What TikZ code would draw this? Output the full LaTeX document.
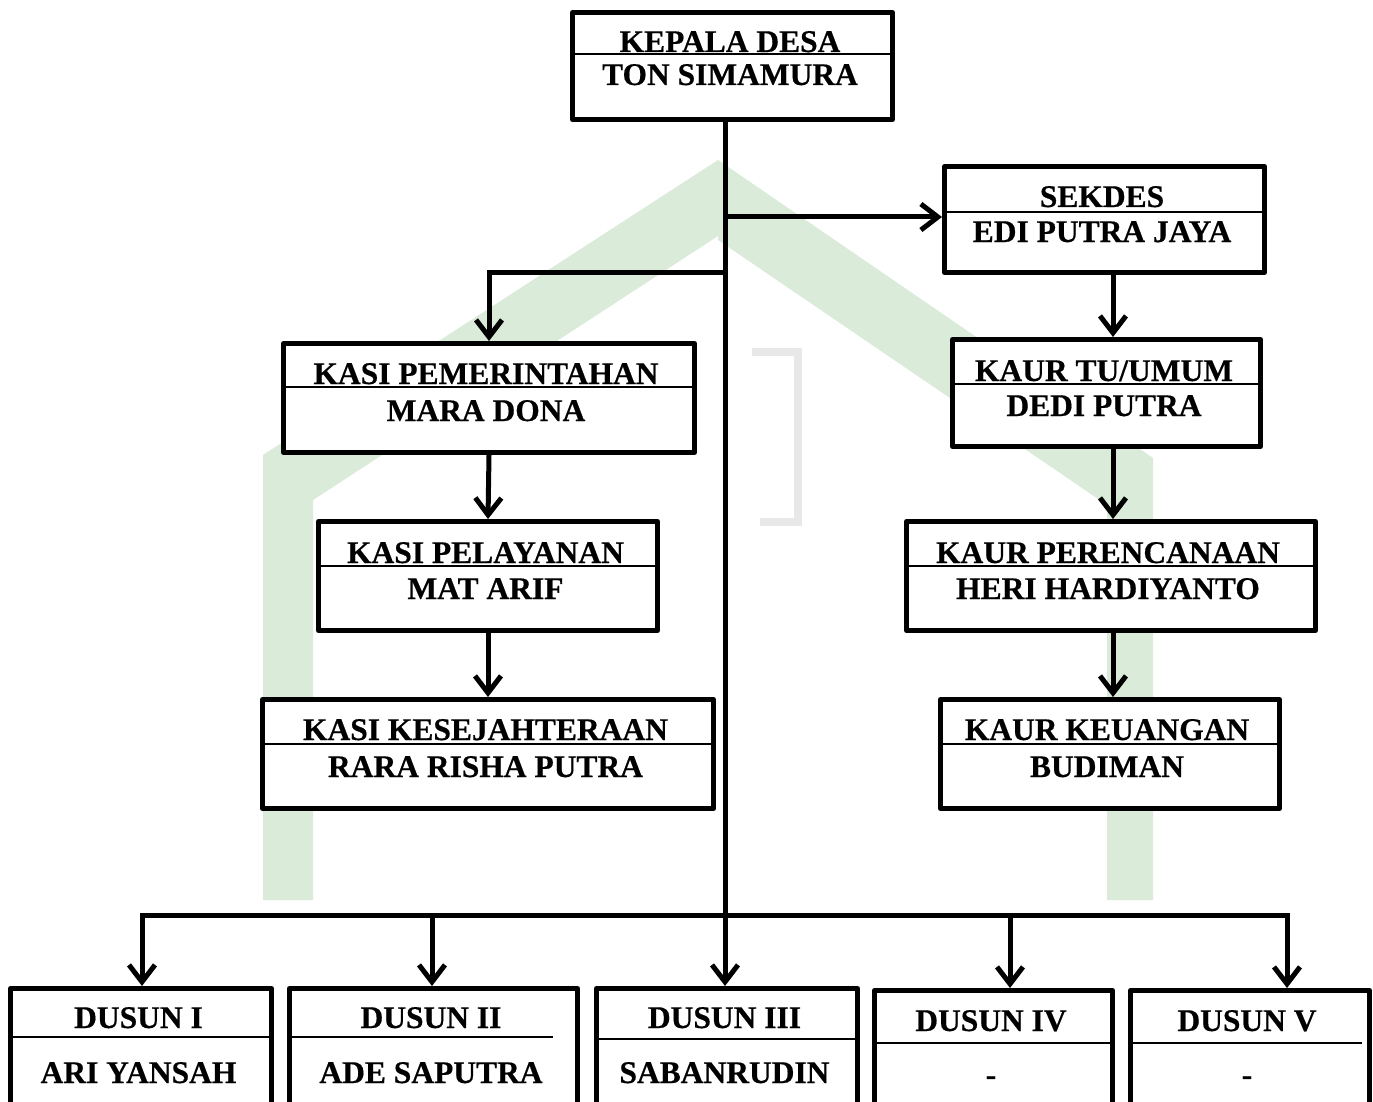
\documentclass[tikz,border=0pt]{standalone}
\usepackage{fontspec}
\setmainfont{Liberation Serif}
\newfontfamily\heavyfont[FakeBold=0.5]{Liberation Serif Bold}
\usetikzlibrary{arrows.meta,calc}
\definecolor{wm}{RGB}{218,235,218}
\definecolor{wmgray}{RGB}{232,232,232}
\begin{document}
\begin{tikzpicture}[x=1pt,y=-1pt,
  box/.style={draw=black, line width=5pt, fill=white, line join=round, inner sep=0pt, anchor=north west},
  div/.style={draw=black, line width=1.6pt},
  txt/.style={anchor=base, inner sep=0pt, font=\heavyfont\fontsize{31.5}{36}\selectfont},
  conn/.style={draw=black, line width=5pt},
  arr/.style={conn, -{Straight Barb[length=17pt,width=26pt]}}]
\useasboundingbox (0,0) rectangle (1373,1102);
\fill[white] (0,0) rectangle (1373,1102);
\clip (0,0) rectangle (1373,1102);
% watermark (faint)
\fill[wm] (718,160) -- (263,455) -- (263,900) -- (313,900) -- (313,500) -- (718,236) -- cycle;
\fill[wm] (718,160) -- (1153,458) -- (1153,900) -- (1107,900) -- (1107,505) -- (718,240) -- cycle;
\draw[wmgray, line width=8pt] (752,352) -- (798,352) -- (798,522) -- (760,522);

% ---- boxes ----
\node[box, minimum width=320pt, minimum height=107pt] (kd) at (570,10) {};
\draw[div] (570,54) -- (890,54);
\node[txt] (kd1) at (730,52) {KEPALA DESA};
\node[txt] (kd2) at (730,85) {TON SIMAMURA};

\node[box, minimum width=320pt, minimum height=106pt] (sek) at (942,164) {};
\draw[div] (942,212) -- (1262,212);
\node[txt] (sek1) at (1102,207) {SEKDES};
\node[txt] (sek2) at (1102,242) {EDI PUTRA JAYA};

\node[box, minimum width=308pt, minimum height=107pt] (ktu) at (950,337) {};
\draw[div] (950,384) -- (1258,384);
\node[txt] (ktu1) at (1104,381) {KAUR TU/UMUM};
\node[txt] (ktu2) at (1104,416) {DEDI PUTRA};

\node[box, minimum width=409pt, minimum height=109pt] (kpr) at (904,519) {};
\draw[div] (904,566) -- (1313,566);
\node[txt] (kpr1) at (1108,563) {KAUR PERENCANAAN};
\node[txt] (kpr2) at (1108,599) {HERI HARDIYANTO};

\node[box, minimum width=339pt, minimum height=109pt] (kku) at (938,697) {};
\draw[div] (938,744) -- (1277,744);
\node[txt] (kku1) at (1107,740) {KAUR KEUANGAN};
\node[txt] (kku2) at (1107,777) {BUDIMAN};

\node[box, minimum width=411pt, minimum height=109pt] (kp) at (281,341) {};
\draw[div] (281,387) -- (692,387);
\node[txt] (kp1) at (486,384) {KASI PEMERINTAHAN};
\node[txt] (kp2) at (486,421) {MARA DONA};

\node[box, minimum width=339pt, minimum height=109pt] (kpl) at (316,519) {};
\draw[div] (316,566) -- (655,566);
\node[txt] (kpl1) at (485.5,563) {KASI PELAYANAN};
\node[txt] (kpl2) at (485.5,599) {MAT ARIF};

\node[box, minimum width=451pt, minimum height=109pt] (kks) at (260,697) {};
\draw[div] (260,744) -- (711,744);
\node[txt] (kks1) at (485.5,740) {KASI KESEJAHTERAAN};
\node[txt] (kks2) at (485.5,777) {RARA RISHA PUTRA};

% dusun
\node[box, minimum width=261pt, minimum height=150pt] (d1) at (8,986) {};
\draw[div] (8,1037) -- (269,1037);
\node[txt] (d1a) at (138.5,1028) {DUSUN I};
\node[txt] (d1b) at (138.5,1083) {ARI YANSAH};

\node[box, minimum width=288pt, minimum height=150pt] (d2) at (287,986) {};
\draw[div] (292,1037) -- (553,1037);
\node[txt] (d2a) at (431,1028) {DUSUN II};
\node[txt] (d2b) at (431,1083) {ADE SAPUTRA};

\node[box, minimum width=261pt, minimum height=150pt] (d3) at (594,986) {};
\draw[div] (594,1039) -- (855,1039);
\node[txt] (d3a) at (724.5,1028) {DUSUN III};
\node[txt] (d3b) at (724.5,1083) {SABANRUDIN};

\node[box, minimum width=238pt, minimum height=150pt] (d4) at (872,988) {};
\draw[div] (872,1043) -- (1113,1043);
\node[txt] (d4a) at (991,1031) {DUSUN IV};
\node[txt] (d4b) at (991,1085) {-};

\node[box, minimum width=239pt, minimum height=150pt] (d5) at (1128,988) {};
\draw[div] (1128,1043) -- (1362,1043);
\node[txt] (d5a) at (1247,1031) {DUSUN V};
\node[txt] (d5b) at (1247,1085) {-};

% ---- connectors ----
\coordinate (mx) at (725,0);
\coordinate (js) at (725,217);
\coordinate (jl) at (725,272);
\coordinate (a1) at (142,915);
\coordinate (a2) at (432,915);
\coordinate (a4) at (1010,915);
\coordinate (a5) at (1287,915);
\coordinate (rx) at (1113,0);

\draw[arr] (kd.south -| mx) -- (d3.north -| mx);
\draw[arr] (js) -- (sek.west |- js);
\draw[arr] (jl) -- (jl -| kp.north) -- (kp.north);
\draw[arr] (kp.south) -- (kpl.north);
\draw[arr] (kpl.south) -- (kks.north);
\draw[arr] (sek.south -| rx) -- (ktu.north -| rx);
\draw[arr] (ktu.south -| rx) -- (kpr.north -| rx);
\draw[arr] (kpr.south -| rx) -- (kku.north -| rx);

\draw[conn, line cap=rect] (a1) -- (a5);
\draw[arr] (a1) -- (a1 |- d1.north);
\draw[arr] (a2) -- (a2 |- d2.north);
\draw[arr] (a4) -- (a4 |- d4.north);
\draw[arr] (a5) -- (a5 |- d5.north);
\end{tikzpicture}
\end{document}
